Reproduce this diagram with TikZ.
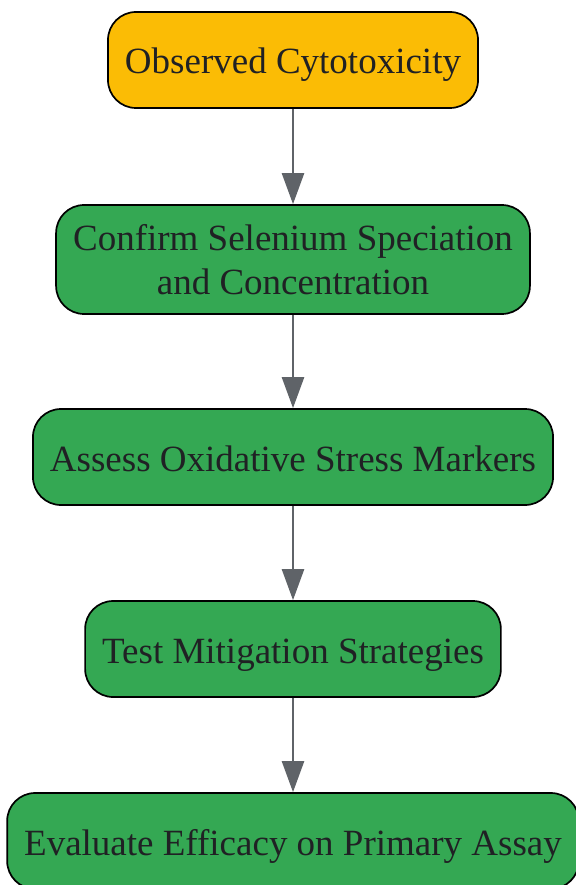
\documentclass[tikz,border=0pt]{standalone}
\usepackage{fontspec}
\setmainfont{Liberation Serif}
\usetikzlibrary{arrows.meta}

\definecolor{stepyellow}{HTML}{FBBC05}
\definecolor{stepgreen}{HTML}{34A853}
\definecolor{arrowgray}{HTML}{5F6368}
\definecolor{textdark}{HTML}{202124}

\tikzset{
  stepbox/.style={draw=black, line width=1.7pt, rounded corners=28pt,
    inner xsep=17pt, inner ysep=0pt, minimum height=96pt, align=center,
    text=textdark, font=\fontsize{37}{44}\selectfont},
  oneline/.style={text height=36pt, text depth=8pt},
  startbox/.style={stepbox, oneline, fill=stepyellow},
  greenbox/.style={stepbox, fill=stepgreen}
}

\begin{document}
\begin{tikzpicture}[x=1pt, y=1pt, >={Triangle[width=22pt,length=31pt]}]

        \useasboundingbox (0,0) rectangle (575,-885);

        \node[startbox] (obs) at (293,-60) {Observed Cytotoxicity};
        \node[greenbox, minimum height=109pt, yshift=-1pt] (conf) at (293,-258.5) {Confirm Selenium Speciation\\and Concentration};
        \node[greenbox, oneline] (assess) at (293,-457) {Assess Oxidative Stress Markers};
        \node[greenbox, oneline] (test) at (293,-649) {Test Mitigation Strategies};
        \node[greenbox, oneline] (eval) at (293,-841) {Evaluate Efficacy on Primary Assay};

        \path [->, draw=arrowgray, fill=arrowgray, line width=2.5pt] (obs) edge node {} (conf);
        \path [->, draw=arrowgray, fill=arrowgray, line width=2.5pt] (conf) edge node {} (assess);
        \path [->, draw=arrowgray, fill=arrowgray, line width=2.5pt] (assess) edge node {} (test);
        \path [->, draw=arrowgray, fill=arrowgray, line width=2.5pt] (test) edge node {} (eval);
\end{tikzpicture}
\end{document}
